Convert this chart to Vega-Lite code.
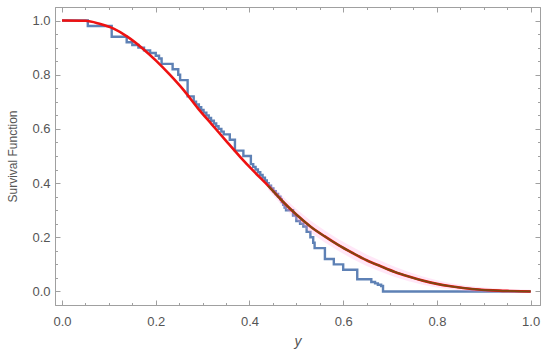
{
  "$schema": "https://vega.github.io/schema/vega-lite/v6.json",
  "width": 485,
  "height": 298,
  "autosize": {"type": "none"},
  "padding": {"left": 55, "top": 7, "right": 10, "bottom": 54},
  "background": "white",
  "config": {
    "view": {"stroke": "#a0a0a0", "strokeWidth": 1},
    "axis": {
      "grid": false,
      "domainColor": "#a0a0a0",
      "tickColor": "#a0a0a0",
      "labelColor": "#555555",
      "labelFont": "Liberation Sans",
      "labelFontSize": 13,
      "labelOverlap": false,
      "titleFont": "Liberation Sans",
      "titleColor": "#555555",
      "titleFontWeight": "normal"
    }
  },
  "datasets": {
    "km": [
      {"x": 0, "y": 1}, {"x": 0.055, "y": 0.98}, {"x": 0.106, "y": 0.94}, {"x": 0.138, "y": 0.92},
      {"x": 0.15, "y": 0.91}, {"x": 0.163, "y": 0.9}, {"x": 0.175, "y": 0.89}, {"x": 0.188, "y": 0.88},
      {"x": 0.2, "y": 0.87}, {"x": 0.207, "y": 0.86}, {"x": 0.2125, "y": 0.84}, {"x": 0.236, "y": 0.82},
      {"x": 0.248, "y": 0.8}, {"x": 0.252, "y": 0.78}, {"x": 0.268, "y": 0.72}, {"x": 0.281, "y": 0.7},
      {"x": 0.286, "y": 0.69}, {"x": 0.292, "y": 0.68}, {"x": 0.297, "y": 0.67}, {"x": 0.302, "y": 0.66},
      {"x": 0.308, "y": 0.65}, {"x": 0.313, "y": 0.64}, {"x": 0.318, "y": 0.63}, {"x": 0.324, "y": 0.62},
      {"x": 0.329, "y": 0.61}, {"x": 0.334, "y": 0.6}, {"x": 0.34, "y": 0.59}, {"x": 0.345, "y": 0.58},
      {"x": 0.358, "y": 0.56}, {"x": 0.369, "y": 0.52}, {"x": 0.387, "y": 0.5}, {"x": 0.403, "y": 0.47},
      {"x": 0.408, "y": 0.46}, {"x": 0.413, "y": 0.45}, {"x": 0.418, "y": 0.44}, {"x": 0.423, "y": 0.43},
      {"x": 0.428, "y": 0.42}, {"x": 0.433, "y": 0.41}, {"x": 0.437, "y": 0.4}, {"x": 0.441, "y": 0.39},
      {"x": 0.446, "y": 0.38}, {"x": 0.451, "y": 0.37}, {"x": 0.456, "y": 0.36}, {"x": 0.461, "y": 0.35},
      {"x": 0.466, "y": 0.34}, {"x": 0.469, "y": 0.33}, {"x": 0.472, "y": 0.32}, {"x": 0.475, "y": 0.31},
      {"x": 0.478, "y": 0.3}, {"x": 0.493, "y": 0.28}, {"x": 0.5, "y": 0.26}, {"x": 0.508, "y": 0.25},
      {"x": 0.515, "y": 0.24}, {"x": 0.522, "y": 0.22}, {"x": 0.53, "y": 0.2}, {"x": 0.536, "y": 0.18},
      {"x": 0.539, "y": 0.16}, {"x": 0.561, "y": 0.12}, {"x": 0.58, "y": 0.1}, {"x": 0.6, "y": 0.08},
      {"x": 0.63, "y": 0.045}, {"x": 0.66, "y": 0.035}, {"x": 0.668, "y": 0.03}, {"x": 0.674, "y": 0.025},
      {"x": 0.681, "y": 0.02}, {"x": 0.685, "y": 0}, {"x": 1.0, "y": 0}
    ],
    "fit": [
      {"x": 0.0, "y": 1.0}, {"x": 0.05, "y": 0.999}, {"x": 0.08, "y": 0.988}, {"x": 0.11, "y": 0.97},
      {"x": 0.14, "y": 0.94}, {"x": 0.17, "y": 0.9}, {"x": 0.2, "y": 0.853}, {"x": 0.23, "y": 0.8},
      {"x": 0.26, "y": 0.742}, {"x": 0.29, "y": 0.676}, {"x": 0.32, "y": 0.616}, {"x": 0.35, "y": 0.556},
      {"x": 0.38, "y": 0.497}, {"x": 0.41, "y": 0.442}, {"x": 0.44, "y": 0.39}, {"x": 0.47, "y": 0.334},
      {"x": 0.5, "y": 0.284}, {"x": 0.53, "y": 0.24}, {"x": 0.56, "y": 0.204}, {"x": 0.59, "y": 0.171},
      {"x": 0.62, "y": 0.142}, {"x": 0.65, "y": 0.115}, {"x": 0.68, "y": 0.093}, {"x": 0.71, "y": 0.072},
      {"x": 0.74, "y": 0.055}, {"x": 0.77, "y": 0.04}, {"x": 0.8, "y": 0.028}, {"x": 0.83, "y": 0.019},
      {"x": 0.86, "y": 0.012}, {"x": 0.89, "y": 0.007}, {"x": 0.92, "y": 0.004}, {"x": 0.95, "y": 0.002},
      {"x": 0.98, "y": 0.0005}, {"x": 1.0, "y": 0.0}
    ],
    "band": [
      {"x": 0.44, "lo": 0.375, "hi": 0.405}, {"x": 0.47, "lo": 0.316, "hi": 0.352},
      {"x": 0.5, "lo": 0.264, "hi": 0.304}, {"x": 0.53, "lo": 0.218, "hi": 0.262},
      {"x": 0.56, "lo": 0.182, "hi": 0.226}, {"x": 0.59, "lo": 0.149, "hi": 0.193},
      {"x": 0.62, "lo": 0.12, "hi": 0.164}, {"x": 0.65, "lo": 0.094, "hi": 0.136},
      {"x": 0.68, "lo": 0.073, "hi": 0.113}, {"x": 0.71, "lo": 0.053, "hi": 0.091},
      {"x": 0.74, "lo": 0.038, "hi": 0.072}, {"x": 0.77, "lo": 0.025, "hi": 0.055},
      {"x": 0.8, "lo": 0.015, "hi": 0.041}, {"x": 0.83, "lo": 0.008, "hi": 0.03},
      {"x": 0.86, "lo": 0.002, "hi": 0.022}, {"x": 0.89, "lo": -0.002, "hi": 0.016},
      {"x": 0.92, "lo": -0.004, "hi": 0.012}, {"x": 0.95, "lo": -0.005, "hi": 0.009},
      {"x": 0.98, "lo": -0.006, "hi": 0.007}, {"x": 1.0, "lo": -0.006, "hi": 0.006}
    ]
  },
  "resolve": {"axis": {"x": "independent", "y": "independent"}},
  "layer": [
    {
      "data": {"name": "km"},
      "mark": {"type": "line", "color": "#5E81B5", "strokeWidth": 2.4, "interpolate": "step-after"},
      "encoding": {
        "x": {
          "field": "x", "type": "quantitative",
          "scale": {"domain": [-0.015, 1.02], "nice": false, "zero": false},
          "axis": {
            "orient": "bottom",
            "values": [0, 0.05, 0.1, 0.15, 0.2, 0.25, 0.3, 0.35, 0.4, 0.45, 0.5, 0.55, 0.6, 0.65, 0.7, 0.75, 0.8, 0.85, 0.9, 0.95, 1.0],
            "labelExpr": "abs(datum.value*5 - round(datum.value*5)) < 0.001 ? format(datum.value, '.1f') : ''",
            "tickSize": {"condition": {"test": "abs(datum.value*5 - round(datum.value*5)) < 0.001", "value": -5}, "value": -2.5},
            "labelPadding": 15,
            "title": "y",
            "titleFontStyle": "italic",
            "titleFontSize": 14,
            "titlePadding": 4
          }
        },
        "y": {
          "field": "y", "type": "quantitative",
          "scale": {"domain": [-0.05, 1.05], "nice": false, "zero": false},
          "axis": {
            "orient": "left",
            "values": [0, 0.05, 0.1, 0.15, 0.2, 0.25, 0.3, 0.35, 0.4, 0.45, 0.5, 0.55, 0.6, 0.65, 0.7, 0.75, 0.8, 0.85, 0.9, 0.95, 1.0],
            "labelExpr": "abs(datum.value*5 - round(datum.value*5)) < 0.001 ? format(datum.value, '.1f') : ''",
            "tickSize": {"condition": {"test": "abs(datum.value*5 - round(datum.value*5)) < 0.001", "value": -5}, "value": -2.5},
            "labelPadding": 10,
            "title": "Survival Function",
            "titleFontSize": 12,
            "titlePadding": 12
          }
        },
        "order": {"field": "x", "type": "quantitative"}
      }
    },
    {
      "data": {"name": "band"},
      "mark": {"type": "area", "color": "#ff9ee0", "opacity": 0.25},
      "encoding": {
        "x": {"field": "x", "type": "quantitative", "axis": null},
        "y": {"field": "lo", "type": "quantitative", "axis": null},
        "y2": {"field": "hi"}
      }
    },
    {
      "data": {"name": "fit"},
      "mark": {"type": "line", "color": "#EE1111", "strokeWidth": 2.6, "interpolate": "monotone"},
      "encoding": {
        "x": {
          "field": "x", "type": "quantitative",
          "axis": {
            "orient": "top",
            "values": [0, 0.05, 0.1, 0.15, 0.2, 0.25, 0.3, 0.35, 0.4, 0.45, 0.5, 0.55, 0.6, 0.65, 0.7, 0.75, 0.8, 0.85, 0.9, 0.95, 1.0],
            "labels": false,
            "tickSize": {"condition": {"test": "abs(datum.value*5 - round(datum.value*5)) < 0.001", "value": -5}, "value": -2.5},
            "title": null
          }
        },
        "y": {
          "field": "y", "type": "quantitative",
          "axis": {
            "orient": "right",
            "values": [0, 0.05, 0.1, 0.15, 0.2, 0.25, 0.3, 0.35, 0.4, 0.45, 0.5, 0.55, 0.6, 0.65, 0.7, 0.75, 0.8, 0.85, 0.9, 0.95, 1.0],
            "labels": false,
            "tickSize": {"condition": {"test": "abs(datum.value*5 - round(datum.value*5)) < 0.001", "value": -5}, "value": -2.5},
            "title": null
          }
        }
      }
    },
    {
      "data": {"name": "fit"},
      "transform": [{"filter": "datum.x >= 0.44"}],
      "mark": {"type": "line", "color": "#7A4A12", "strokeWidth": 1.8, "interpolate": "monotone"},
      "encoding": {
        "x": {"field": "x", "type": "quantitative", "axis": null},
        "y": {"field": "y", "type": "quantitative", "axis": null}
      }
    }
  ]
}
